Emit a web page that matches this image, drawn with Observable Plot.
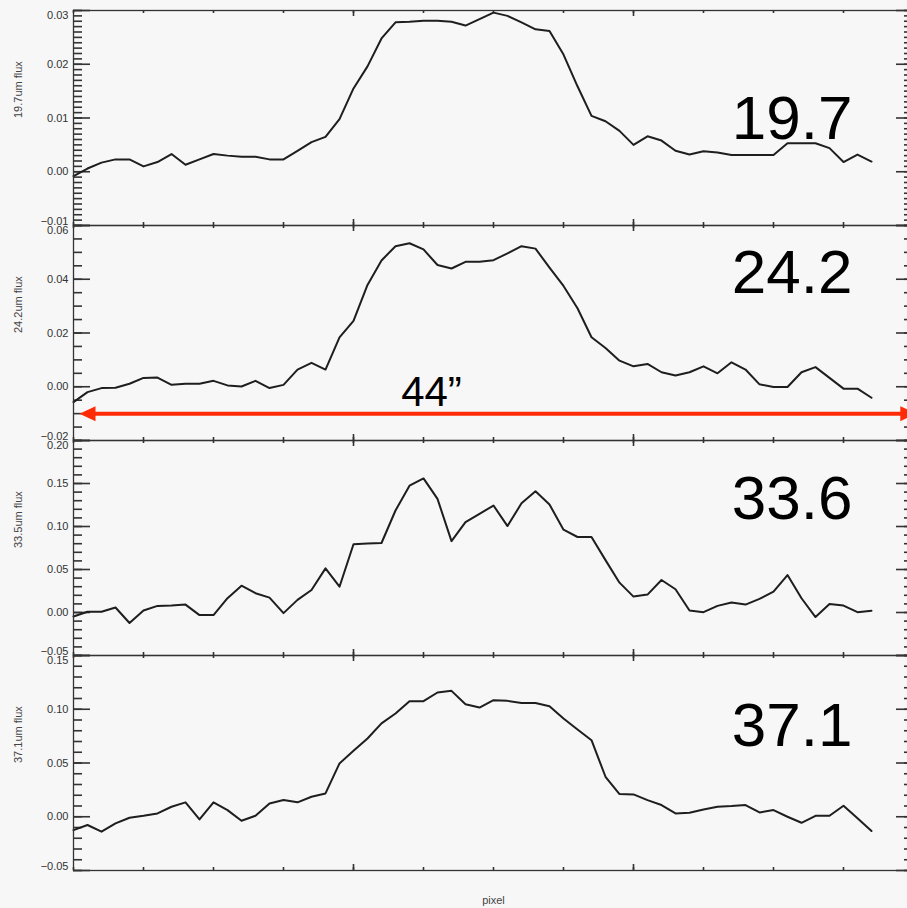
<!DOCTYPE html>
<html><head><meta charset="utf-8">
<script src="https://cdn.jsdelivr.net/npm/d3@7"></script>
<script src="https://cdn.jsdelivr.net/npm/@observablehq/plot@0.6"></script>
<style>
html,body{margin:0;padding:0;background:#f7f7f7;}
#chart{position:relative;width:907px;height:908px;overflow:hidden;background:#f7f7f7;}
#chart svg{position:absolute;left:0;}
</style></head><body><div id="chart"></div>
<script>
// ---- data ----
const pixel = d3.range(58);
const flux197 = [-0.0008,0.0006,0.0017,0.0023,0.0023,0.0010,0.0018,0.0033,0.0013,0.0023,0.0033,0.0030,0.0028,0.0028,0.0023,0.0023,0.0039,0.0055,0.0065,0.0098,0.0155,0.0196,0.0248,0.0278,0.0279,0.0281,0.0281,0.0279,0.0272,0.0284,0.0296,0.0290,0.0278,0.0265,0.0262,0.0218,0.0159,0.0104,0.0094,0.0076,0.0050,0.0066,0.0058,0.0039,0.0032,0.0038,0.0036,0.0031,0.0031,0.0031,0.0031,0.0053,0.0053,0.0053,0.0044,0.0018,0.0032,0.0019];
const flux242 = [-0.0057,-0.0020,-0.0005,-0.0004,0.0011,0.0033,0.0034,0.0007,0.0011,0.0011,0.0022,0.0005,0.0001,0.0022,-0.0005,0.0007,0.0064,0.0089,0.0064,0.0184,0.0245,0.0379,0.0470,0.0523,0.0534,0.0511,0.0453,0.0440,0.0465,0.0465,0.0471,0.0496,0.0523,0.0514,0.0443,0.0375,0.0292,0.0184,0.0144,0.0097,0.0076,0.0085,0.0054,0.0042,0.0054,0.0076,0.0050,0.0091,0.0064,0.0009,-0.0001,-0.0001,0.0054,0.0073,0.0033,-0.0007,-0.0007,-0.0041];
const flux336 = [-0.0046,0.0008,0.0008,0.0058,-0.0122,0.0023,0.0077,0.0080,0.0092,-0.0030,-0.0030,0.0166,0.0312,0.0224,0.0173,-0.0007,0.0147,0.0262,0.0513,0.0300,0.0793,0.0801,0.0808,0.1186,0.1475,0.1559,0.1321,0.0830,0.1051,0.1148,0.1244,0.1005,0.1270,0.1409,0.1256,0.0963,0.0878,0.0878,0.0609,0.0347,0.0185,0.0208,0.0378,0.0270,0.0023,0.0004,0.0077,0.0116,0.0092,0.0158,0.0243,0.0435,0.0166,-0.0053,0.0100,0.0081,0.0004,0.0020];
const flux371 = [-0.0124,-0.0077,-0.0139,-0.0062,-0.0009,0.0009,0.0031,0.0093,0.0134,-0.0025,0.0134,0.0062,-0.0037,0.0009,0.0124,0.0155,0.0134,0.0186,0.0217,0.0496,0.0613,0.0728,0.0868,0.0960,0.1075,0.1075,0.1156,0.1171,0.1047,0.1016,0.1084,0.1078,0.1059,0.1059,0.1028,0.0914,0.0812,0.0712,0.0372,0.0211,0.0208,0.0155,0.0109,0.0031,0.0037,0.0068,0.0093,0.0099,0.0109,0.0040,0.0062,0.0000,-0.0056,0.0009,0.0009,0.0102,-0.0015,-0.0133];
const series = [flux197, flux242, flux336, flux371];
const bandNames = ["19.7", "24.2", "33.6", "37.1"];
const axisLabels = ["19.7um flux", "24.2um flux", "33.5um flux", "37.1um flux"];
const yDomains = [[-0.01, 0.03], [-0.02, 0.06], [-0.05, 0.20], [-0.05, 0.15]];
const yMajor = [
  [-0.01, 0.00, 0.01, 0.02, 0.03],
  [-0.02, 0.00, 0.02, 0.04, 0.06],
  [-0.05, 0.00, 0.05, 0.10, 0.15, 0.20],
  [-0.05, 0.00, 0.05, 0.10, 0.15]
];
const yMinorStep = [0.001, 0.005, 0.01, 0.01];
const xDomain = [0, 60];
const xMinor = d3.range(0, 61, 5);
const xMajor = [20, 40];
const xLabel = "pixel";
const arrowSpan = [0.43, 60.2];
const arrowLevel = -0.01;
const arrowText = "44\u201d";

// ---- layout / style ----
const W = 913, ML = 73, panelH = 215;
const innerW = W - ML;
const tops = [10, 225, 440, 655];
const bigDy = [128, 67, 78, 90];
const AX = "#333", RED = "#ff2a06";
const FONT = '"Liberation Sans", Arial, Helvetica, sans-serif';
const fmt = d3.format(".2f");
const headLeft = {draw(c) { c.moveTo(0, 0); c.lineTo(16, -7.5); c.lineTo(16, 7.5); c.closePath(); }};
const headRight = {draw(c) { c.moveTo(0, 0); c.lineTo(-16, -7.5); c.lineTo(-16, 7.5); c.closePath(); }};

const chart = document.getElementById("chart");
series.forEach((vals, i) => {
  const MT = 20, MB = i === 3 ? 40 : 20;
  const [lo, hi] = yDomains[i];
  const step = yMinorStep[i];
  const minors = d3.range(Math.round((hi - lo) / step) + 1).map(k => +(lo + k * step).toFixed(4));
  const majors = yMajor[i];
  const inner = majors.filter(v => v !== lo && v !== hi);
  const tk = {stroke: AX, strokeWidth: 1.6};
  const marks = [
    // inward ticks on all four sides
    Plot.tickY(minors, {y: d => d, insetRight: innerW - 9, ...tk}),
    Plot.tickY(majors, {y: d => d, insetRight: innerW - 17, ...tk}),
    Plot.tickY(minors, {y: d => d, insetLeft: innerW - 9, ...tk}),
    Plot.tickY(majors, {y: d => d, insetLeft: innerW - 17, ...tk}),
    Plot.tickX(xMinor, {x: d => d, insetTop: panelH - 3, ...tk}),
    Plot.tickX(xMajor, {x: d => d, insetTop: panelH - 6, ...tk}),
    Plot.tickX(xMinor, {x: d => d, insetBottom: panelH - 3, ...tk}),
    Plot.tickX(xMajor, {x: d => d, insetBottom: panelH - 6, ...tk}),
    // tick labels
    Plot.axisY({anchor: "left", ticks: inner, tickSize: 0, tickPadding: 5, tickFormat: fmt, label: null, fill: "#333"}),
    Plot.axisY({anchor: "left", ticks: [hi], tickSize: 0, tickPadding: 5, tickFormat: fmt, label: null, fill: "#333", dy: 4.5}),
    Plot.axisY({anchor: "left", ticks: [lo], tickSize: 0, tickPadding: 5, tickFormat: fmt, label: null, fill: "#333", dy: -4.5}),
    Plot.axisX({anchor: "bottom", ticks: [], tickSize: 0, label: null}),
    Plot.text([axisLabels[i]], {frameAnchor: "left", rotate: -90, dx: -55, fontSize: 11, fill: "#444"}),
    Plot.text([bandNames[i]], {frameAnchor: "top-right", textAnchor: "end", lineAnchor: "bottom", dx: 852 - W, dy: bigDy[i], fontSize: 62, fill: "#000"}),
    Plot.line(pixel, {x: pixel, y: vals, stroke: "#1e1e1e", strokeWidth: 2, strokeLinejoin: "round"}),
    Plot.frame({stroke: AX, strokeWidth: 1.3})
  ];
  if (i === 1) {
    marks.push(
      Plot.ruleY([arrowLevel], {x1: arrowSpan[0] + 1, x2: arrowSpan[1] - 1, stroke: RED, strokeWidth: 4}),
      Plot.dot([0], {x: [arrowSpan[0]], y: [arrowLevel], symbol: headLeft, fill: RED, stroke: "none"}),
      Plot.dot([0], {x: [arrowSpan[1]], y: [arrowLevel], symbol: headRight, fill: RED, stroke: "none"}),
      Plot.text([arrowText], {frameAnchor: "top-left", textAnchor: "middle", lineAnchor: "bottom", dx: 358, dy: 180, fontSize: 42, fill: "#000"})
    );
  }
  if (i === 3) {
    marks.push(Plot.text([xLabel], {frameAnchor: "bottom", lineAnchor: "bottom", dy: 33, fontSize: 11, fill: "#444"}));
  }
  const svg = Plot.plot({
    width: W, height: panelH + MT + MB,
    marginTop: MT, marginBottom: MB, marginLeft: ML, marginRight: 0,
    x: {domain: xDomain},
    y: {domain: yDomains[i]},
    style: {background: "transparent", fontFamily: FONT, fontSize: "11px", color: "#333", maxWidth: "none", overflow: "visible"},
    marks
  });
  svg.style.top = (tops[i] - MT) + "px";
  chart.appendChild(svg);
});
</script></body></html>
